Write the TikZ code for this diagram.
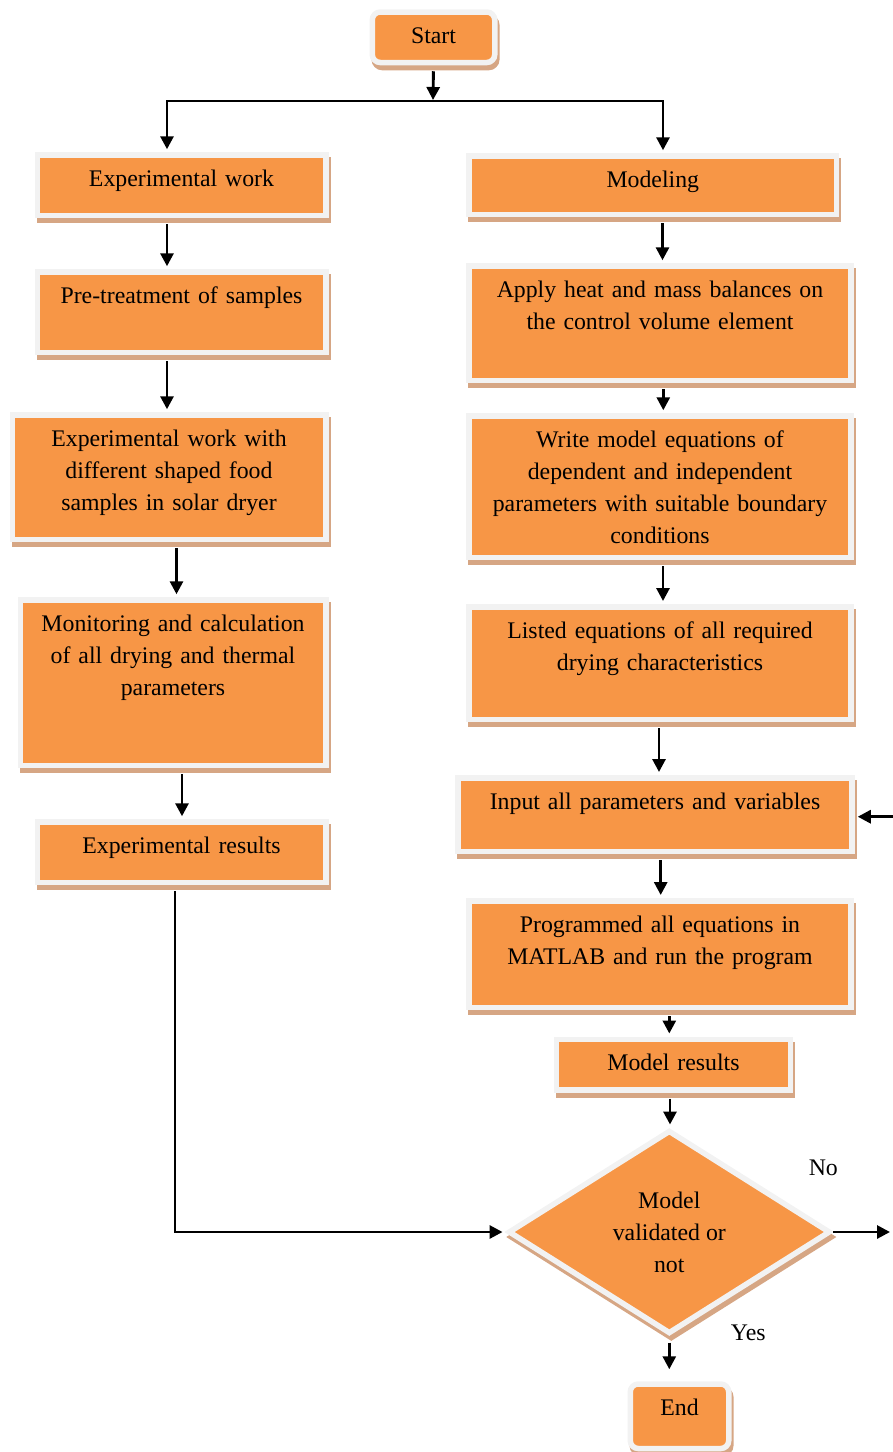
\documentclass[tikz,border=0pt]{standalone}
\usepackage{fontspec}
\setmainfont{Liberation Serif}
\usetikzlibrary{arrows.meta,shapes.geometric}
\definecolor{boxorange}{RGB}{247,150,70}
\definecolor{boxedge}{RGB}{242,242,242}
\definecolor{boxshade}{RGB}{214,166,132}
\tikzset{
	flowpaint/.style={fill=boxorange, draw=boxedge, line width=5.5pt, text=black,
		preaction={draw=boxshade, fill=boxshade, transform canvas={xshift=2pt, yshift=-5pt}},
		font=\fontsize{23.8}{32}\selectfont},
	stepbox/.style={flowpaint, rectangle, anchor=north, align=center,
		inner xsep=4pt, inner ysep=16.25pt, text height=15pt},
	roundbox/.style={stepbox, rounded corners=8pt},
	decision/.style={flowpaint, diamond, aspect=1.6, inner sep=0pt, align=center,
		minimum width=322pt, minimum height=203.5pt},
	arr/.style={line width=2.9pt, -{Triangle[length=13pt, width=13pt]}, shorten >=3pt},
	link/.style={arr, shorten <=6pt},
	tag/.style={font=\fontsize{23.8}{32}\selectfont}
}
\def\flowdown[#1](#2)(#3){\draw[link] ([xshift=#1]#2.south) -- ([xshift=#1]#2.south |- #3.north);}

\begin{document}
\begin{tikzpicture}[x=1pt, y=-1pt]
			%%%%% START %%%%%
			\useasboundingbox (0, 0) rectangle (893, 1452);
			
			\node[roundbox, text width=114.5pt, text depth=3pt] (start) at (433.5, 9.25) {Start};
			
			% experimental side
			\node[stepbox, text width=280.5pt, text depth=13pt] (expwork) at (181.5, 152.25) {Experimental work};
			\node[stepbox, text width=280.5pt, text depth=33pt] (pretreat) at (181.5, 269.25) {Pre-treatment of samples};
			\node[stepbox, text width=305.5pt, text depth=77pt] (shapes) at (169, 412.25) {Experimental work with\\different shaped food\\samples in solar dryer};
			\node[stepbox, text width=297.5pt, text depth=118pt] (monitor) at (173, 597.25) {Monitoring and calculation\\of all drying and thermal\\parameters};
			\node[stepbox, text width=280.5pt, text depth=13pt] (expres) at (181.5, 819.25) {Experimental results};
			
			% modeling side
			\node[stepbox, text width=359.8pt, text depth=11pt] (modeling) at (652.8, 153.25) {Modeling};
			\node[stepbox, text width=374pt, text depth=67pt] (apply) at (660, 263.25) {Apply heat and mass balances on\\the control volume element};
			\node[stepbox, text width=374pt, text depth=94pt] (write) at (660, 413.25) {Write model equations of\\dependent and independent\\parameters with suitable boundary\\conditions};
			\node[stepbox, text width=374pt, text depth=65pt] (listed) at (660, 604) {Listed equations of all required\\drying characteristics};
			\node[stepbox, text width=386pt, text depth=26pt] (input) at (655, 775) {Input all parameters and variables};
			\node[stepbox, text width=374pt, text depth=59pt] (program) at (660, 898) {Programmed all equations in\\MATLAB and run the program};
			\node[stepbox, text width=226pt, text depth=3pt] (modelres) at (673.5, 1036.5) {Model results};
			
			\node[decision] (check) at (669.3, 1232) {Model\\validated or\\not};
			\node[roundbox, text width=90.5pt, text depth=17pt] (finish) at (679.5, 1381.25) {End};
			
			\node[tag] (no) at (823.3, 1168) {No};
			\node[tag] (yes) at (748.3, 1333) {Yes};
			
			\coordinate (fork) at (433, 101);
			\coordinate (noout) at (893, 1232);
			\coordinate (loopin) at (893, 816.7);
			
			\draw[arr, shorten <=6pt, shorten >=1pt] (start.south) -- (fork);
			\draw[arr] (fork) -| ([xshift=-14.5pt]expwork.north);
			\draw[arr] (fork) -| ([xshift=10.2pt]modeling.north);
			
			\flowdown[-14.5pt](expwork)(pretreat)
			\flowdown[-14.5pt](pretreat)(shapes)
			\flowdown[7.5pt](shapes)(monitor)
			\flowdown[9pt](monitor)(expres)
			\draw[link] ([xshift=-6.5pt]expres.south) |- (check.west);
			
			\flowdown[9.7pt](modeling)(apply)
			\flowdown[3.3pt](apply)(write)
			\flowdown[3pt](write)(listed)
			\flowdown[-1pt](listed)(input)
			\flowdown[5.7pt](input)(program)
			\flowdown[9.3pt](program)(modelres)
			\flowdown[-3.5pt](modelres)(check)
			
			\draw[link, shorten >=12pt] (check.south) -- (check.south |- finish.north);
			\draw[arr] (check.east) -- (noout);
			\draw[arr] (loopin) -- (loopin -| input.east);
			%%%%% END %%%%%
\end{tikzpicture}
\end{document}
